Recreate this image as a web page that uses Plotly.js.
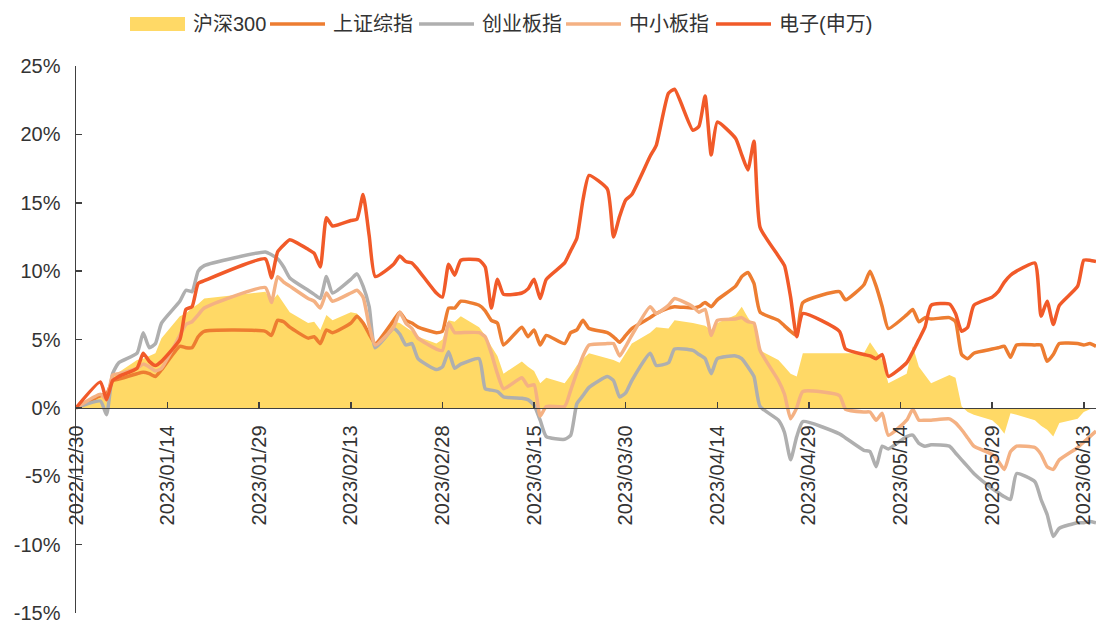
<!DOCTYPE html>
<html>
<head>
<meta charset="utf-8">
<script src="https://cdn.plot.ly/plotly-3.0.1.min.js"></script>
<style>
  html, body { margin: 0; padding: 0; background: #ffffff; }
  #chart { width: 1097px; height: 623px; }
</style>
</head>
<body>
<div id="chart"></div>
<script>
// Trading days, cumulative returns (%) since 2022/12/30
const tradeDates = [
  '2022-12-30',
  '2023-01-03','2023-01-04','2023-01-05','2023-01-06','2023-01-09','2023-01-10','2023-01-11','2023-01-12',
  '2023-01-13','2023-01-16','2023-01-17','2023-01-18','2023-01-19','2023-01-20','2023-01-30','2023-01-31',
  '2023-02-01','2023-02-02','2023-02-03','2023-02-06','2023-02-07','2023-02-08','2023-02-09','2023-02-10',
  '2023-02-13','2023-02-14','2023-02-15','2023-02-16','2023-02-17','2023-02-20','2023-02-21','2023-02-22',
  '2023-02-23','2023-02-24','2023-02-27','2023-02-28',
  '2023-03-01','2023-03-02','2023-03-03','2023-03-06','2023-03-07','2023-03-08','2023-03-09','2023-03-10',
  '2023-03-13','2023-03-14','2023-03-15','2023-03-16','2023-03-17','2023-03-20','2023-03-21','2023-03-22',
  '2023-03-23','2023-03-24','2023-03-27','2023-03-28','2023-03-29','2023-03-30','2023-03-31',
  '2023-04-03','2023-04-04','2023-04-06','2023-04-07','2023-04-10','2023-04-11','2023-04-12','2023-04-13',
  '2023-04-14','2023-04-17','2023-04-18','2023-04-19','2023-04-20','2023-04-21','2023-04-24','2023-04-25',
  '2023-04-26','2023-04-27','2023-04-28',
  '2023-05-04','2023-05-05','2023-05-08','2023-05-09','2023-05-10','2023-05-11','2023-05-12','2023-05-15',
  '2023-05-16','2023-05-17','2023-05-18','2023-05-19','2023-05-22','2023-05-23','2023-05-24','2023-05-25',
  '2023-05-26','2023-05-29','2023-05-30','2023-05-31',
  '2023-06-01','2023-06-02','2023-06-05','2023-06-06','2023-06-07','2023-06-08','2023-06-09','2023-06-12',
  '2023-06-13','2023-06-14','2023-06-15'
];

// 沪深300
const hs300 = [
  0,
  0.9, 1.2, 2.3, 2.6, 3.5, 3.6, 3.8, 4.0, 5.1, 6.7, 6.9, 7.3, 7.6, 8.0, 8.5, 7.8,
  8.3, 7.6, 7.0, 6.2, 6.3, 5.7, 6.8, 6.4, 7.0, 6.9, 6.3, 5.3, 4.5, 6.3, 6.2, 5.9, 5.6, 5.2, 4.7, 5.0,
  6.4, 6.3, 6.7, 5.9, 5.3, 4.5, 3.8, 2.5, 3.4, 3.0, 2.7, 1.8, 2.2, 1.8, 2.4, 3.1, 3.6, 4.0, 3.6, 3.5, 3.3, 4.0, 4.7,
  5.5, 5.9, 5.8, 6.4, 6.2, 6.1, 6.0, 5.7, 6.2, 6.8, 7.4, 6.6, 6.0, 4.2, 3.5, 3.0, 2.5, 2.3, 4.0,
  4.0, 4.0, 4.0, 4.8, 4.1, 3.5, 1.8, 2.5, 4.5, 3.0, 2.4, 1.8, 2.4, 2.2, 0.1, -0.3, -0.5, -0.9, -1.3, -1.9,
  -0.4, -0.5, -0.9, -1.3, -1.6, -2.1, -1.1, -0.8, -0.3, -0.1, 0.0
];

// 上证综指
const szzz = [
  0,
  0.9, 1.0, 2.0, 2.1, 2.5, 2.6, 2.5, 2.3, 2.8, 4.5, 4.4, 4.4, 5.2, 5.6, 5.6, 5.3,
  6.4, 6.3, 5.9, 5.1, 5.2, 4.7, 5.7, 5.5, 6.2, 6.7, 6.2, 5.4, 4.7, 6.4, 7.0, 6.4, 6.2, 5.9, 5.5, 5.6,
  7.3, 7.3, 7.8, 7.5, 7.1, 6.4, 6.2, 4.6, 5.9, 5.2, 5.7, 4.6, 5.3, 4.7, 5.5, 5.7, 6.4, 5.8, 5.5, 5.2, 4.8, 5.3, 5.8,
  6.6, 6.9, 7.3, 7.4, 7.3, 7.4, 7.7, 7.4, 7.9, 8.9, 9.6, 9.9, 9.1, 7.0, 6.4, 6.0, 5.6, 5.3, 7.7,
  8.5, 7.9, 9.0, 10.0, 8.9, 7.4, 5.8, 6.8, 7.2, 6.3, 6.6, 6.5, 6.6, 6.3, 3.9, 3.6, 4.0, 4.3, 4.4, 4.5,
  3.7, 4.6, 4.6, 4.6, 3.4, 3.9, 4.7, 4.7, 4.6, 4.7, 4.5
];

// 创业板指
const cybz = [
  0,
  0.5, -0.5, 2.5, 3.3, 4.0, 5.5, 4.4, 4.7, 6.2, 7.8, 8.6, 8.5, 10.0, 10.4, 11.4, 11.2,
  10.9, 10.3, 9.5, 8.6, 8.3, 8.0, 9.6, 8.4, 9.4, 9.8, 8.9, 7.4, 4.4, 5.8, 5.4, 4.6, 4.7, 3.6, 2.8, 3.0,
  4.1, 2.9, 3.2, 3.6, 1.4, 1.3, 1.2, 0.8, 0.7, 0.6, 0.2, -0.9, -2.1, -2.3, -2.0, 0.3, 0.9, 1.5, 2.3, 2.0, 0.8, 1.1, 2.0,
  4.0, 3.1, 3.3, 4.3, 4.2, 3.9, 3.6, 2.5, 3.6, 3.8, 3.6, 3.0, 2.3, 0.1, -0.9, -1.8, -3.8, -2.1, -1.0,
  -1.9, -2.2, -3.1, -3.2, -4.3, -2.8, -3.0, -2.1, -2.0, -2.6, -2.8, -2.7, -2.8, -3.3, -3.8, -4.3, -4.8, -5.9, -6.2, -6.5,
  -6.7, -4.8, -5.4, -6.7, -7.8, -9.4, -8.8, -8.4, -8.4, -8.3, -8.4
];

// 中小板指
const zxbz = [
  0,
  1.0, 0.6, 2.4, 2.5, 2.9, 3.2, 3.0, 2.7, 2.9, 5.3, 6.1, 6.3, 6.8, 7.3, 8.8, 7.7,
  9.6, 9.2, 8.9, 8.0, 7.8, 7.3, 8.4, 7.8, 8.4, 8.6, 8.1, 6.0, 4.6, 5.9, 7.0, 6.2, 5.8, 5.1, 4.3, 4.2,
  6.2, 5.5, 5.5, 5.5, 5.2, 4.0, 2.5, 1.4, 2.2, 1.6, 1.7, -0.6, 0.1, 0.1, 1.3, 2.6, 3.8, 4.6, 4.7, 4.7, 3.8, 4.5, 5.3,
  7.4, 6.9, 7.5, 8.0, 7.4, 7.0, 7.2, 5.3, 6.4, 6.5, 6.6, 6.3, 6.2, 4.2, 2.0, 1.0, -0.8, 0.0, 1.2,
  0.9, -0.1, -0.3, -0.3, -0.9, -0.4, -2.0, -0.9, -0.1, -0.9, -0.9, -0.9, -0.8, -1.1, -1.6, -2.2, -2.8, -3.4, -3.9, -4.5,
  -3.2, -2.8, -2.9, -3.4, -4.3, -4.5, -3.8, -2.9, -2.5, -2.1, -1.7
];

// 电子(申万)
const dianzi = [
  0,
  1.9, 0.6, 2.0, 2.3, 2.9, 4.0, 3.4, 3.1, 3.4, 5.0, 7.2, 7.4, 9.1, 9.3, 10.9, 9.5,
  11.4, 11.9, 12.3, 11.6, 11.3, 10.3, 13.9, 13.3, 13.7, 13.8, 15.6, 12.6, 9.6, 10.5, 11.1, 10.7, 10.6, 10.1, 8.4, 8.1,
  10.5, 9.7, 10.8, 10.8, 10.3, 7.3, 9.4, 8.3, 8.4, 8.7, 9.4, 8.0, 9.4, 10.6, 11.5, 12.4, 15.2, 17.0, 16.0, 12.5, 14.0, 15.2, 15.6,
  18.4, 19.2, 23.0, 23.3, 20.3, 20.6, 22.8, 18.5, 20.9, 19.7, 18.5, 17.4, 19.5, 13.2, 11.1, 10.4, 8.1, 5.2, 6.9,
  5.6, 4.3, 3.9, 3.8, 3.6, 3.9, 2.3, 3.3, 4.1, 5.0, 5.9, 7.5, 7.6, 6.9, 5.6, 5.9, 7.5, 8.1, 8.5, 9.2,
  9.7, 10.0, 10.6, 6.7, 7.8, 6.1, 7.5, 8.9, 10.8, 10.8, 10.7
];

const seriesNames = ['沪深300', '上证综指', '创业板指', '中小板指', '电子(申万)'];

// y-axis ticks
const yTickVals = [-15, -10, -5, 0, 5, 10, 15, 20, 25];
const yTickText = ['-15%', '-10%', '-5%', '0%', '5%', '10%', '15%', '20%', '25%'];

// ---- styling ----
const COLORS = {
  hs300: '#FFD966',
  szzz: '#ED7D31',
  cybz: '#AFAFAF',
  zxbz: '#F4B183',
  dianzi: '#F15A29'
};
const LINE_W = 3.5;
const TEXT_COLOR = '#333333';
const LATIN = '"Liberation Sans", Arial, sans-serif';
const MIXED = '"Liberation Sans", Arial, "Noto Sans CJK SC", sans-serif';

const W = 1097, H = 623;
const M = { l: 76, r: 1, t: 66, b: 10 };
const plotW = W - M.l - M.r;
const plotH = H - M.t - M.b;
const Y_MIN = -15, Y_MAX = 25;

function lineTrace(y, name, color) {
  return {
    type: 'scatter', mode: 'lines', x: tradeDates, y: y, name: name,
    line: { color: color, width: LINE_W, shape: 'spline', smoothing: 0.5 },
    hoverinfo: 'skip'
  };
}

const traces = [
  {
    type: 'scatter', mode: 'lines', x: tradeDates, y: hs300, name: seriesNames[0],
    fill: 'tozeroy', fillcolor: COLORS.hs300,
    line: { color: COLORS.hs300, width: 0 }, hoverinfo: 'skip'
  },
  lineTrace(szzz, seriesNames[1], COLORS.szzz),
  lineTrace(cybz, seriesNames[2], COLORS.cybz),
  lineTrace(zxbz, seriesNames[3], COLORS.zxbz),
  lineTrace(dianzi, seriesNames[4], COLORS.dianzi)
];

// legend across the top, built from shapes + text
const px2x = px => (px - M.l) / plotW;
const px2y = py => (H - M.b - py) / plotH;
const legendRow = 24;
const legendStarts = [130, 270, 419, 566, 716];
const swatchLen = 55;
const legendColors = [COLORS.hs300, COLORS.szzz, COLORS.cybz, COLORS.zxbz, COLORS.dianzi];

const shapes = [];
const annotations = [];
seriesNames.forEach((name, i) => {
  const x0 = legendStarts[i], x1 = x0 + swatchLen;
  if (i === 0) {
    shapes.push({
      type: 'rect', xref: 'paper', yref: 'paper',
      x0: px2x(x0), x1: px2x(x1), y0: px2y(legendRow + 7), y1: px2y(legendRow - 7),
      fillcolor: legendColors[i], line: { width: 0 }
    });
  } else {
    shapes.push({
      type: 'line', xref: 'paper', yref: 'paper',
      x0: px2x(x0), x1: px2x(x1), y0: px2y(legendRow), y1: px2y(legendRow),
      line: { color: legendColors[i], width: LINE_W }
    });
  }
  annotations.push({
    xref: 'paper', yref: 'paper', x: px2x(x1 + 6), y: px2y(legendRow),
    xanchor: 'left', yanchor: 'middle', showarrow: false, text: name,
    font: { family: MIXED, size: 20, color: TEXT_COLOR }
  });
});

const layout = {
  width: W, height: H,
  margin: M,
  paper_bgcolor: '#ffffff', plot_bgcolor: '#ffffff',
  showlegend: false,
  font: { family: LATIN, size: 20, color: TEXT_COLOR },
  xaxis: {
    type: 'date',
    range: ['2022-12-30', '2023-06-15'],
    tick0: '2022-12-30', dtick: 15 * 86400000,
    tickformat: '%Y/%m/%d', tickangle: -90,
    anchor: 'free', position: (0 - Y_MIN) / (Y_MAX - Y_MIN),
    showline: true, linecolor: '#404040', linewidth: 1.5,
    ticks: 'inside', ticklen: 6, tickwidth: 1.5, tickcolor: '#404040',
    ticklabelstandoff: 8,
    showgrid: false, zeroline: false,
    tickfont: { family: LATIN, size: 20, color: TEXT_COLOR }
  },
  yaxis: {
    range: [Y_MIN, Y_MAX],
    tickmode: 'array', tickvals: yTickVals, ticktext: yTickText,
    showline: true, linecolor: '#404040', linewidth: 1.5,
    ticks: 'inside', ticklen: 6, tickwidth: 1.5, tickcolor: '#404040',
    ticklabelstandoff: 10,
    ticklabeloverflow: 'allow',
    showgrid: false, zeroline: false,
    tickfont: { family: LATIN, size: 20, color: TEXT_COLOR }
  },
  shapes: shapes,
  annotations: annotations
};

Plotly.newPlot('chart', traces, layout, { staticPlot: true, displayModeBar: false });
</script>
</body>
</html>
